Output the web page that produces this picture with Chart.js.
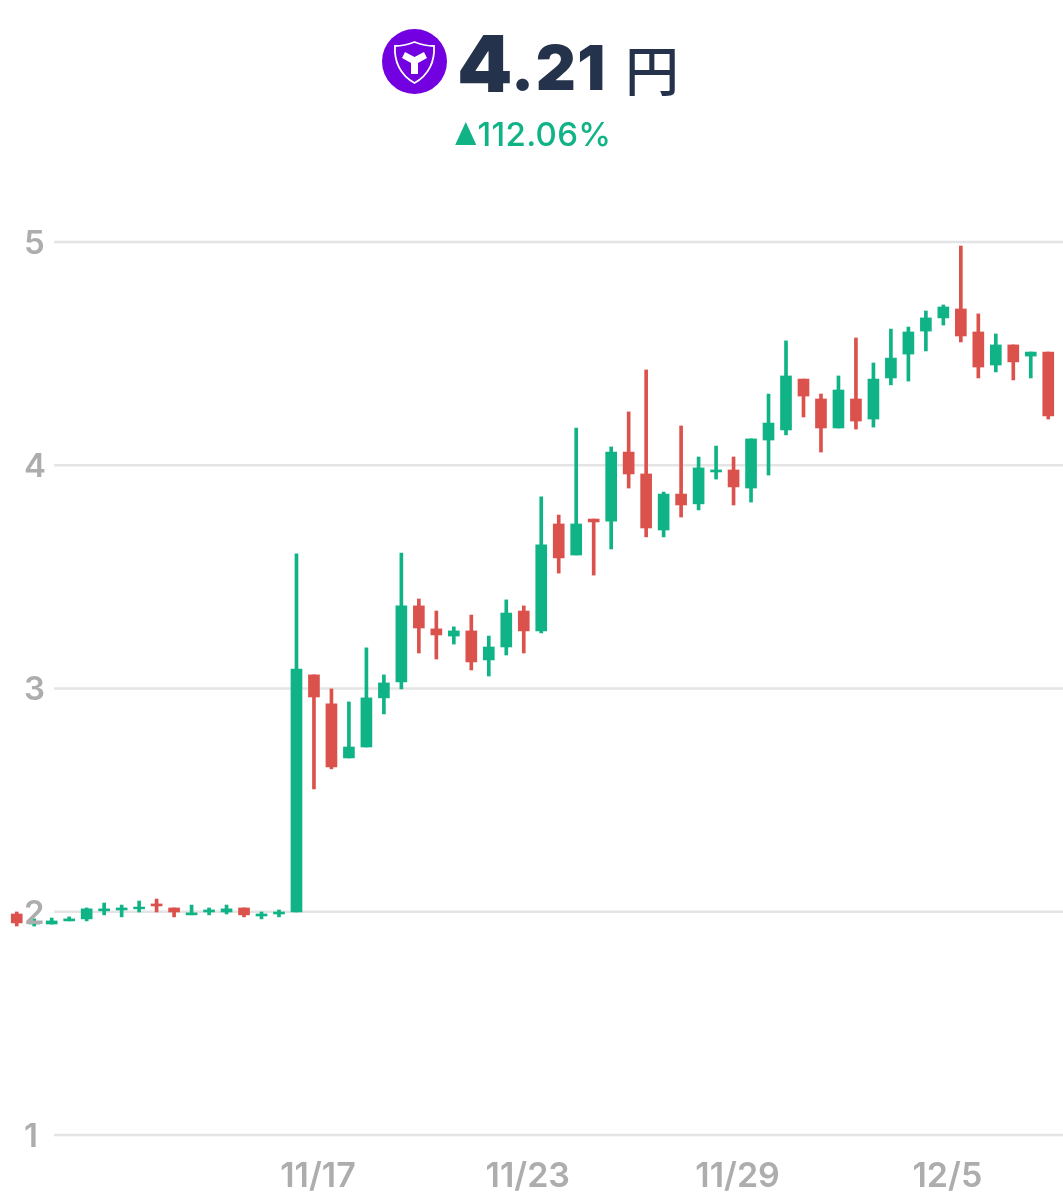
<!DOCTYPE html>
<html lang="ja">
<head>
<meta charset="utf-8">
<title>4.21 円</title>
<script src="https://cdn.jsdelivr.net/npm/chart.js@4/dist/chart.umd.min.js"></script>
<style>
    html, body { margin: 0; padding: 0; background: #fff; }
    #page { position: relative; width: 1063px; height: 1200px; overflow: hidden; }
    #dataChart { position: absolute; left: 0; top: 0; }
    .head { position: absolute; white-space: nowrap; line-height: 1; color: #25324b; }
    #logo { position: absolute; left: 382px; top: 29px; }
    #priceBig { left: 457px; top: 15px; font: 900 79px Inter, sans-serif; }
    #priceSmall { left: 511px; top: 30px; font: 900 62px Inter, sans-serif; letter-spacing: 1.5px; }
    #unit { left: 625px; top: 29px; font: 500 54px "Noto Sans CJK JP", sans-serif; }
    #change { left: 454px; top: 114px; font: 500 33px Inter, sans-serif; color: #10b386; letter-spacing: 0.3px; }
    #change .arrow { display: inline-block; font-size: 23px; vertical-align: 3px; letter-spacing: 0; transform: scaleY(1.3); }
</style>
</head>
<body>
<div id="page">
    <canvas id="dataChart" width="1063" height="1200"></canvas>
    <svg id="logo" width="65" height="65" viewBox="0 0 65 65">
        <circle cx="32.5" cy="32.5" r="32.5" fill="#7200e0"/>
        <path d="M32.5 13 C40 16 46 17 52 17 C53 32 47 46 32.5 54 C18 46 12 32 13 17 C19 17 25 16 32.5 13 Z" fill="none" stroke="#fff" stroke-width="1.8"/>
        <path d="M23 23 L32.5 28 L42 23 L45 29 L36 34 L36 45 L29 45 L29 34 L20 29 Z" fill="#fff"/>
    </svg>
    <div class="head" id="priceBig">4</div>
    <div class="head" id="priceSmall">.21</div>
    <div class="head" id="unit">円</div>
    <div class="head" id="change"><span class="arrow">▲</span>112.06%</div>
</div>

<script>
// Candles, two per day
const categories = [
    '11/8', '11/9', '11/9', '11/10', '11/10', '11/11', '11/11', '11/12', '11/12', '11/13',
    '11/13', '11/14', '11/14', '11/15', '11/15', '11/16', '11/16', '11/17', '11/17', '11/18',
    '11/18', '11/19', '11/19', '11/20', '11/20', '11/21', '11/21', '11/22', '11/22', '11/23',
    '11/23', '11/24', '11/24', '11/25', '11/25', '11/26', '11/26', '11/27', '11/27', '11/28',
    '11/28', '11/29', '11/29', '11/30', '11/30', '12/1', '12/1', '12/2', '12/2', '12/3',
    '12/3', '12/4', '12/4', '12/5', '12/5', '12/6', '12/6', '12/7', '12/7', '12/8'
];
const opens = [
    1.990, 1.945, 1.945, 1.959, 1.968, 2.004, 2.008, 2.013, 2.035, 2.017,
    1.986, 1.999, 1.999, 2.017, 1.981, 1.990, 1.999, 3.061, 2.931, 2.689,
    2.738, 2.958, 3.029, 3.370, 3.267, 3.235, 3.258, 3.128, 3.186, 3.347,
    3.258, 3.737, 3.598, 3.759, 3.750, 4.059, 3.961, 3.710, 3.871, 3.827,
    3.970, 3.979, 3.898, 4.113, 4.158, 4.386, 4.297, 4.167, 4.297, 4.207,
    4.391, 4.498, 4.601, 4.660, 4.700, 4.597, 4.449, 4.539, 4.489, 4.507
];
const highs = [
    1.999, 1.968, 1.972, 1.977, 2.017, 2.039, 2.030, 2.048, 2.057, 2.017,
    2.030, 2.017, 2.030, 2.017, 1.999, 2.008, 3.603, 3.061, 2.998, 2.940,
    3.182, 3.061, 3.607, 3.401, 3.347, 3.276, 3.329, 3.235, 3.397, 3.370,
    3.858, 3.777, 4.167, 3.759, 4.082, 4.239, 4.427, 3.880, 4.176, 4.037,
    4.086, 4.037, 4.118, 4.319, 4.557, 4.386, 4.319, 4.400, 4.570, 4.458,
    4.610, 4.619, 4.691, 4.718, 4.982, 4.678, 4.588, 4.539, 4.507, 4.507
];
const lows = [
    1.936, 1.936, 1.945, 1.959, 1.959, 1.986, 1.977, 1.999, 1.999, 1.977,
    1.986, 1.986, 1.990, 1.977, 1.968, 1.977, 1.999, 2.550, 2.640, 2.689,
    2.738, 2.886, 2.998, 3.159, 3.132, 3.199, 3.083, 3.056, 3.150, 3.159,
    3.249, 3.517, 3.598, 3.508, 3.625, 3.898, 3.679, 3.679, 3.768, 3.800,
    3.938, 3.822, 3.835, 3.956, 4.136, 4.216, 4.059, 4.167, 4.162, 4.171,
    4.360, 4.377, 4.512, 4.628, 4.552, 4.391, 4.418, 4.382, 4.391, 4.207
];
const closes = [
    1.950, 1.954, 1.959, 1.968, 2.013, 2.013, 2.017, 2.021, 2.026, 1.999,
    1.995, 2.008, 2.013, 1.986, 1.990, 1.999, 3.087, 2.962, 2.649, 2.738,
    2.958, 3.025, 3.370, 3.271, 3.240, 3.258, 3.119, 3.186, 3.338, 3.258,
    3.643, 3.585, 3.737, 3.746, 4.059, 3.961, 3.719, 3.871, 3.822, 3.988,
    3.979, 3.903, 4.118, 4.189, 4.400, 4.310, 4.167, 4.337, 4.198, 4.386,
    4.480, 4.597, 4.660, 4.709, 4.579, 4.440, 4.539, 4.463, 4.507, 4.221
];
const shownDates = ['11/17', '11/23', '11/29', '12/5'];
const priceTicks = [1, 2, 3, 4, 5];

const UP_COLOR = '#10b386';
const DOWN_COLOR = '#db524c';
const GRID_COLOR = '#e4e4e4';
const TICK_COLOR = '#adadad';
const GRID_LEFT = 54;

function initializeChart() {
    const ctx = document.getElementById('dataChart').getContext('2d');
    const candleColors = closes.map((close, i) => close >= opens[i] ? UP_COLOR : DOWN_COLOR);

    // the grid starts right of the price labels, while the candles run under them
    const partialGrid = {
        id: 'partialGrid',
        beforeDatasetsDraw(chart) {
            const c = chart.ctx;
            const yScale = chart.scales.y;
            c.save();
            c.strokeStyle = GRID_COLOR;
            c.lineWidth = 2.5;
            yScale.ticks.forEach(tick => {
                const y = yScale.getPixelForValue(tick.value);
                c.beginPath();
                c.moveTo(GRID_LEFT, y);
                c.lineTo(chart.width, y);
                c.stroke();
            });
            c.restore();
        }
    };

    new Chart(ctx, {
        type: 'bar',
        data: {
            labels: categories,
            datasets: [
                {
                    label: 'wick',
                    data: lows.map((low, i) => [low, highs[i]]),
                    backgroundColor: candleColors,
                    barThickness: 3,
                    grouped: false,
                    order: 2
                },
                {
                    label: 'body',
                    data: opens.map((open, i) => [open, closes[i]]),
                    backgroundColor: candleColors,
                    barThickness: 11,
                    grouped: false,
                    order: 1
                }
            ]
        },
        options: {
            responsive: false,
            animation: false,
            devicePixelRatio: 1,
            layout: {
                padding: { left: 8, right: 6, top: 242, bottom: 6 }
            },
            plugins: {
                legend: { display: false },
                tooltip: { enabled: false }
            },
            scales: {
                x: {
                    offset: true,
                    grid: { display: false, drawTicks: false },
                    border: { display: false },
                    afterFit: function(axis) {
                        axis.height = 59;
                        // ticks.padding would otherwise inset the candles sideways as well
                        axis.paddingLeft = 0;
                        axis.paddingRight = 0;
                    },
                    ticks: {
                        autoSkip: false,
                        maxRotation: 0,
                        color: TICK_COLOR,
                        padding: 21,
                        labelOffset: 4,
                        font: { family: 'Inter', size: 34, weight: '600', lineHeight: 1.2 },
                        callback: function(value, index) {
                            const label = categories[index];
                            return shownDates.includes(label) && categories.indexOf(label) === index ? label : '';
                        }
                    }
                },
                y: {
                    min: priceTicks[0],
                    max: priceTicks[priceTicks.length - 1],
                    grid: { display: false, drawTicks: false },
                    border: { display: false },
                    afterFit: function(axis) {
                        axis.width = 0;
                    },
                    afterBuildTicks: function(axis) {
                        axis.ticks = priceTicks.map(value => ({ value }));
                    },
                    ticks: {
                        mirror: true,
                        z: 1,
                        padding: 16,
                        labelOffset: 2,
                        color: TICK_COLOR,
                        font: { family: 'Inter', size: 33, weight: '600' }
                    }
                }
            }
        },
        plugins: [partialGrid]
    });
}

document.addEventListener('DOMContentLoaded', initializeChart);
</script>
</body>
</html>
